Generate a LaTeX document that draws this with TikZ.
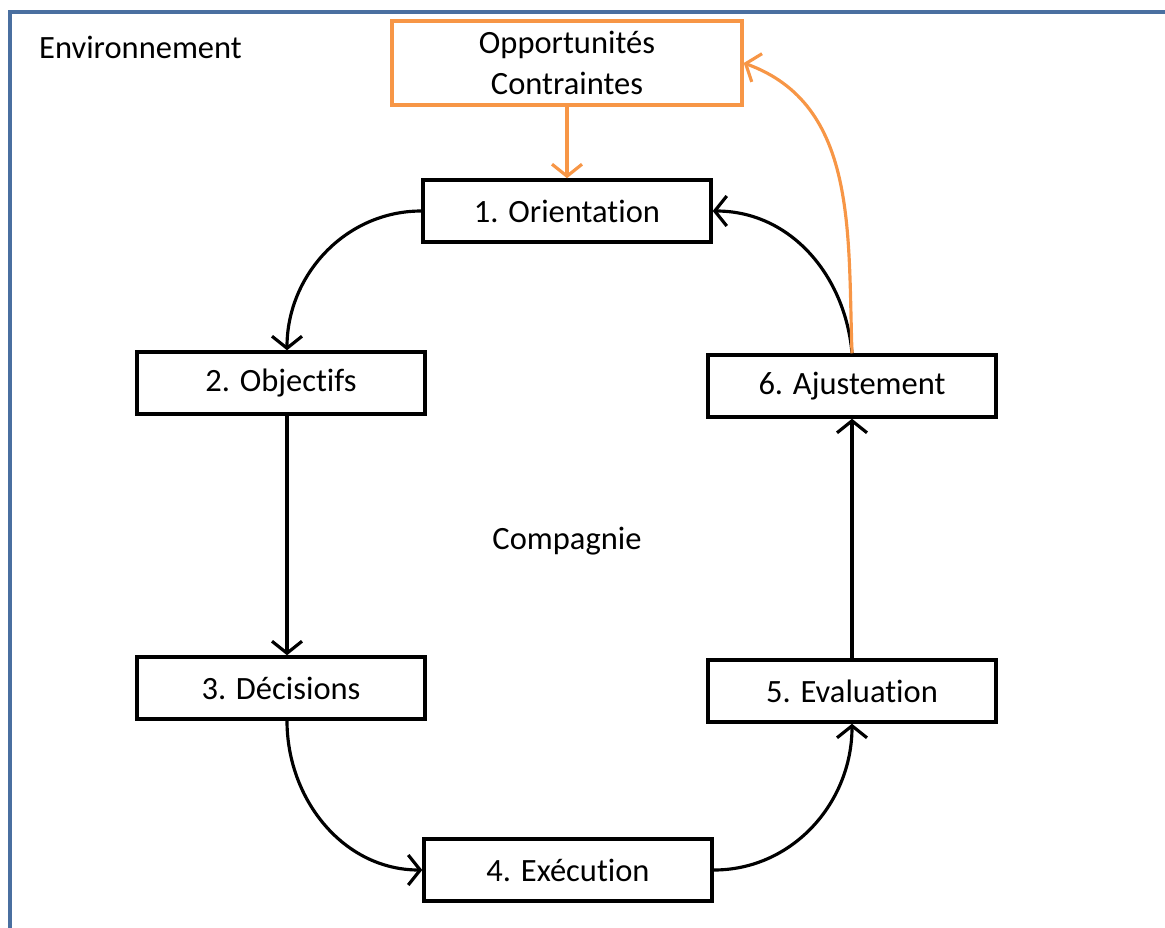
\documentclass[tikz,border=0pt]{standalone}
\usepackage{fontspec}
\setmainfont{Carlito}[RawFeature={-liga;-clig;-dlig;-calt}]
\usepackage{tikz}
\usetikzlibrary{arrows.meta}
\definecolor{bleucadre}{HTML}{4A6FA0}
\definecolor{orangeoc}{HTML}{F79646}

\begin{document}
\begin{tikzpicture}[x=0.02cm,y=-0.02cm,
font=\fontsize{18.5}{23.5}\selectfont,
etape/.style={draw,line width=2pt,minimum width=5.76cm,minimum height=1.24cm,align=center},
fleche/.style={line width=1.8pt,-{Straight Barb[length=2.4mm,width=6mm]}},
flecheor/.style={fleche,draw=orangeoc}]

\useasboundingbox (0,0) rectangle (1165,927);

% Cadre
\draw[bleucadre,line width=2.2pt] (10,940) -- (10,12) -- (1175,12);
\node[anchor=west] (env) at (33,47) {Environnement};
\node (comp) at (567,541) {Compagnie};

% Nodes
\node[etape,draw=orangeoc,minimum width=7cm,minimum height=1.68cm] (opp) at (567,63) {Opportunités\\Contraintes};
\node[etape] (orient) at (567,211) {1. Orientation};
\node[etape] (obj) at (281,383) {2. Objectifs};
\node[etape] (dec) at (281,688) {3. Décisions};
\node[etape] (exec) at (568,870) {4. Exécution};
\node[etape] (eval) at (852,691) {5. Evaluation};
\node[etape] (ajust) at (852,386) {6. Ajustement};

% Fleches
\draw[fleche] (orient.west) to[out=180,in=90] ([xshift=0.12cm]obj.north);
\draw[fleche] ([xshift=0.12cm]obj.south) -- ([xshift=0.12cm]dec.north);
\draw[fleche] ([xshift=0.12cm]dec.south) to[out=-90,in=180] (exec.west);
\draw[fleche] (exec.east) to[out=0,in=-90] (eval.south);
\draw[fleche] (eval.north) -- (ajust.north |- ajust.south);
\draw[fleche] (ajust.north) to[out=95,in=0] (orient.east);
% Environnement
\draw[flecheor] (opp.south) -- (orient.north);
\draw[flecheor] (ajust.north) to[out=92,in=-20] (opp.east);

\end{tikzpicture}
\end{document}
